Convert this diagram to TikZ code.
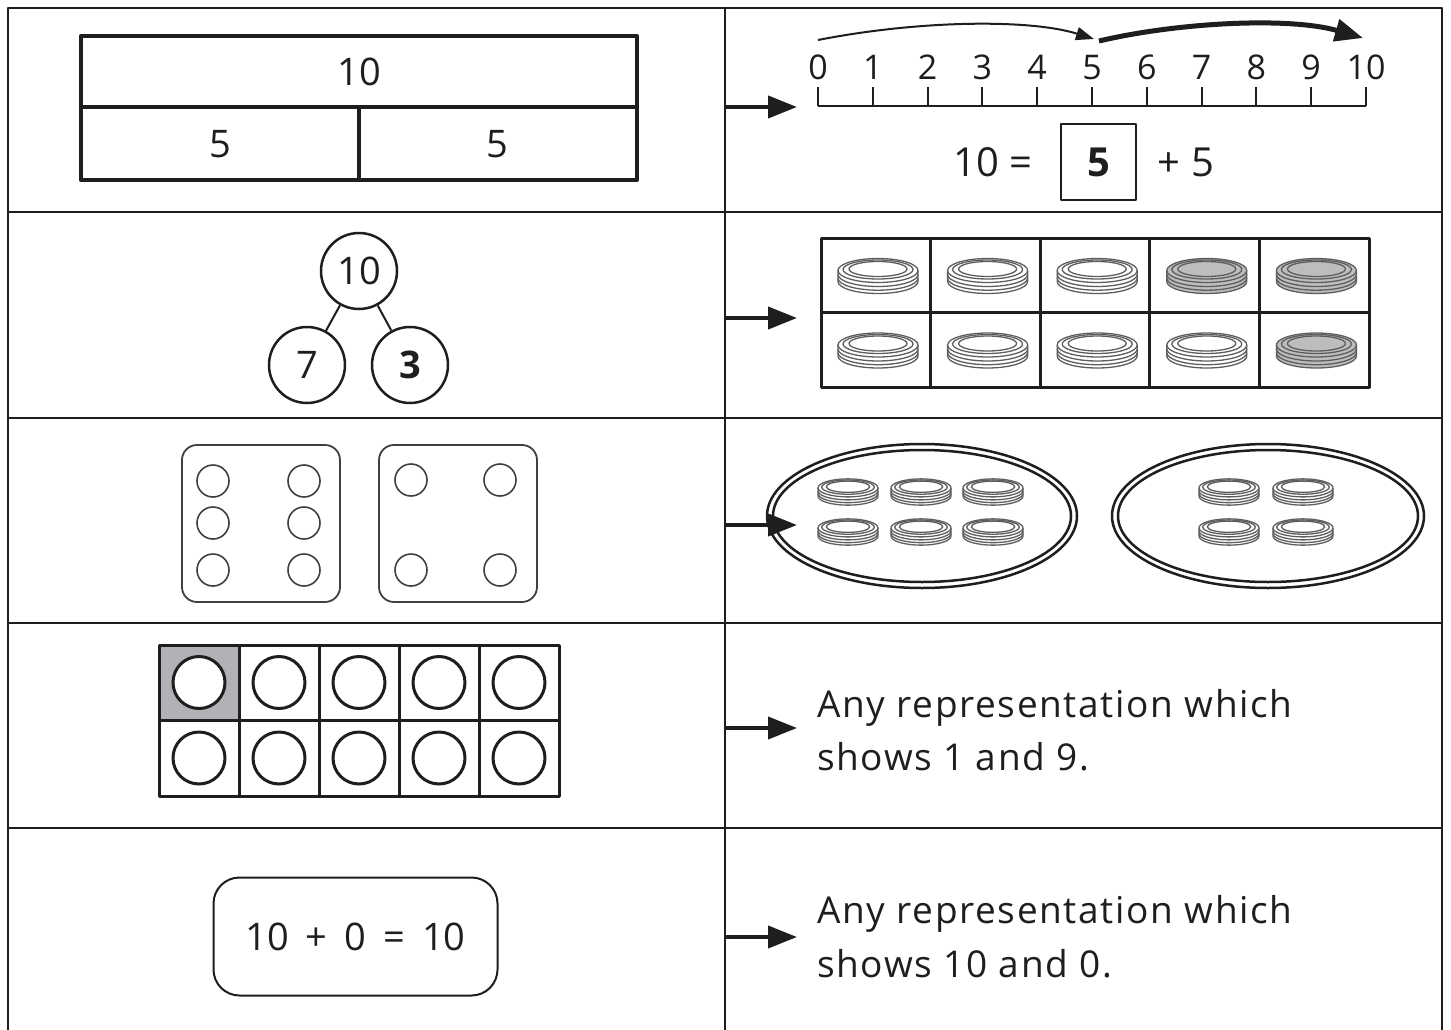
\documentclass[tikz,border=0pt]{standalone}
\usepackage{fontspec}
\setmainfont{Open Sans}
\usetikzlibrary{arrows.meta}
\definecolor{ink}{HTML}{1E1E1E}
\definecolor{cline}{HTML}{5E5E5E}
\definecolor{cgray}{HTML}{BDBDBD}
\definecolor{cellgray}{HTML}{B2B2B6}
\tikzset{
  grid/.style={line width=2.5pt, draw=ink},
  conn/.style={line width=4pt, draw=ink, -{Triangle[length=29pt,width=22pt]}},
  bar/.style={line width=4pt, draw=ink},
  txt/.style={font=\fontsize{38}{44}\selectfont, text=ink, inner sep=0pt},
  nltxt/.style={font=\fontsize{34}{40}\selectfont, text=ink, inner sep=0pt},
  eqtxt/.style={font=\fontsize{40}{46}\selectfont, text=ink, inner sep=0pt},
  body/.style={font=\fontsize{37}{44}\selectfont\addfontfeatures{LetterSpace=4.5}, text=ink, inner sep=0pt, anchor=base west},
  pw/.style={circle, draw=ink, line width=2.5pt, minimum size=76pt, inner sep=0pt, font=\fontsize{38}{44}\selectfont, text=ink},
  die/.style={draw=ink!85, line width=1.8pt, rounded corners=15pt},
  pip/.style={draw=ink!85, line width=1.6pt},
  frame/.style={line width=3pt, draw=ink},
  tfc/.style={circle, draw=ink, line width=3pt, minimum size=52pt, inner sep=0pt},
  ring/.style={draw=ink, line width=2.5pt, fill=white},
  cl/.style={draw=cline, line width=1.3pt},
  pics/counter/.style={code={
    \path[fill=#1] (-40,-5.5) -- (-40,5.5) arc[start angle=180,end angle=0,x radius=40,y radius=12] -- (40,-5.5) -- cycle;
    \draw[cl] (-40,-5.5) -- (-40,5.5) arc[start angle=180,end angle=0,x radius=40,y radius=12] -- (40,-5.5);
    \draw[cl] (-40,-1.5) arc[start angle=180,end angle=0,x radius=40,y radius=12];
    \draw[cl] (-40,2.2) arc[start angle=180,end angle=0,x radius=40,y radius=12];
    \draw[cl, fill=#1] (0,-5.5) ellipse[x radius=40, y radius=12];
    \draw[cl] (0,-6.5) ellipse[x radius=35, y radius=9.5];
    \draw[cl] (0,-7) ellipse[x radius=29, y radius=7.5];
  }}
}
\newcommand{\gp}{\hspace{17pt}}
\begin{document}
\begin{tikzpicture}[x=1pt,y=-1pt,line join=round]
\useasboundingbox (0,0) rectangle (1451,1030);
\fill[white] (0,0) rectangle (1451,1030);

% ---------- table ----------
\draw[grid] (8,1030) -- (8,8) -- (1442,8) -- (1442,1030);
\draw[grid] (725,8) -- (725,1030);
\foreach \y in {212,418,623,828} \draw[grid] (8,\y) -- (1442,\y);

% ---------- connector end points ----------
\foreach \y/\n in {107/a,318/b,525/c,728/d,937/e}{
  \coordinate (s\n) at (725,\y);
  \coordinate (t\n) at (797,\y);
}

% ---------- row 1 left: bar model ----------
\draw[bar] (81,36) rectangle (637,180);
\draw[bar] (81,107) -- (637,107);
\draw[bar] (359,107) -- (359,180);
\node[txt] (barw) at (359,72) {10};
\node[txt] (barl) at (220,144) {5};
\node[txt] (barr) at (497,144) {5};

% ---------- row 1 right: number line ----------
\draw[line width=2pt, draw=ink] (818,106) -- (1366,106);
\foreach \i in {0,...,10}{
  \draw[line width=2pt, draw=ink] (818+54.8*\i,87) -- (818+54.8*\i,106);
  \node[nltxt, anchor=base] (nl\i) at (818+54.8*\i,80) {\i};
}
\coordinate (j0) at (818,40);
\coordinate (j5) at (1094,39);
\coordinate (k5) at (1099,41);
\coordinate (k10) at (1363,38);
\draw[line width=2pt, draw=ink, -{Triangle[length=18pt,width=13pt]}] (j0) .. controls (920,20) and (1030,19) .. (j5);
\draw[line width=5pt, draw=ink, -{Triangle[length=28pt,width=22pt]}] (k5) .. controls (1180,22) and (1290,17) .. (k10);
\node[eqtxt] (eql) at (993,162) {10 =};
\node[draw=ink, line width=2pt, minimum width=75pt, minimum height=76pt, inner sep=0pt, font=\fontsize{40}{46}\selectfont\bfseries, text=ink] (eqbox) at (1098.5,162) {5};
\node[eqtxt] (eqr) at (1186,162) {+ 5};

% ---------- row 2 left: part-whole ----------
\node[pw] (pwt) at (359,271) {10};
\node[pw] (pwl) at (307,365) {7};
\node[pw, font=\fontsize{38}{44}\selectfont\bfseries] (pwr) at (410,365) {3};
\draw[line width=2pt, draw=ink] (pwt) -- (pwl);
\draw[line width=2pt, draw=ink] (pwt) -- (pwr);

% ---------- row 2 right: ten frame with counters ----------
\foreach \i in {0,...,4}{
  \foreach \j in {0,1}{
    \draw[frame] (821+109.6*\i,238+74.5*\j) rectangle (821+109.6*\i+109.6,238+74.5*\j+74.5);
  }
}
\foreach \i/\j/\c in {0/0/white,1/0/white,2/0/white,3/0/cgray,4/0/cgray,
                      0/1/white,1/1/white,2/1/white,3/1/white,4/1/cgray}{
  \pic at (878+109.6*\i,276+74.5*\j) {counter=\c};
}

% ---------- row 3 left: dice ----------
\draw[die] (182,445) rectangle (340,602);
\draw[die] (379,445) rectangle (537,602);
\foreach \x in {213,304}{
  \foreach \y in {481,523,570}{
    \draw[pip] (\x,\y) circle[radius=16];
  }
}
\foreach \x in {411,500}{
  \foreach \y in {480,570}{
    \draw[pip] (\x,\y) circle[radius=16];
  }
}

% ---------- row 3 right: two sets ----------
\draw[ring] (922,516) ellipse[x radius=155, y radius=72];
\draw[ring] (922,516) ellipse[x radius=149, y radius=66];
\draw[ring] (1268,516) ellipse[x radius=156, y radius=72];
\draw[ring] (1268,516) ellipse[x radius=150, y radius=66];
\foreach \x in {848,921,993}{
  \foreach \y in {492,532}{
    \pic[scale=0.75] at (\x,\y) {counter=white};
  }
}
\foreach \x in {1229,1303}{
  \foreach \y in {492,532}{
    \pic[scale=0.75] at (\x,\y) {counter=white};
  }
}

% ---------- row 4 left: ten frame ----------
\fill[cellgray] (159,645) rectangle (239,720);
\foreach \i in {0,...,4}{
  \foreach \j in {0,1}{
    \draw[frame] (159+80*\i,645+75.5*\j) rectangle (239+80*\i,720.5+75.5*\j);
    \node[tfc, fill=white] (tf\i\j) at (199+80*\i,682.5+75.5*\j) {};
  }
}

% ---------- row 4 right ----------
\node[body] (t4a) at (817,717) {Any representation which};
\node[body] (t4b) at (817,770) {shows 1 and 9.};

% ---------- row 5 left ----------
\node[draw=ink, line width=2pt, rounded corners=26pt, minimum width=284pt, minimum height=118pt, inner sep=0pt, txt] (eqn) at (355.5,936.5) {10\gp+\gp0\gp=\gp10};

% ---------- row 5 right ----------
\node[body] (t5a) at (817,923) {Any representation which};
\node[body] (t5b) at (817,977) {shows 10 and 0.};

% connectors on top
\foreach \n in {a,b,c,d,e} \draw[conn] (s\n) -- (t\n);
\end{tikzpicture}
\end{document}
